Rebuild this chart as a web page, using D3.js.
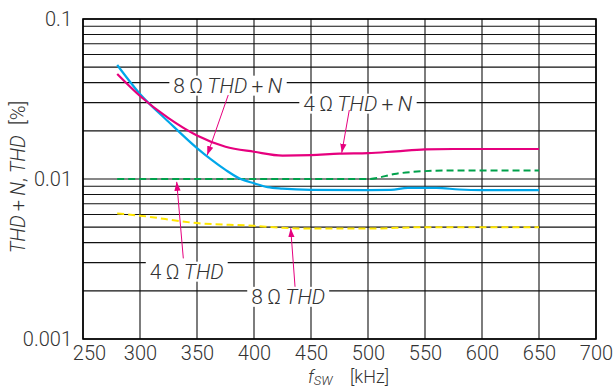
<!DOCTYPE html>
<html>
<head>
<meta charset="utf-8">
<script src="https://cdn.jsdelivr.net/npm/d3@7"></script>
<style>
  body { margin: 0; background: #fff; }
  text { font-family: Roboto, "Liberation Sans", sans-serif; font-weight: 300; fill: #333; }
</style>
</head>
<body>
<div id="chart"></div>
<script>
// tick labels
var xTicks = [250, 300, 350, 400, 450, 500, 550, 600, 650, 700];
var yTicks = [0.001, 0.01, 0.1];
var yTickLabels = ["0.001", "0.01", "0.1"];

// 4 ohm THD+N (magenta)
var thdn4Freq = [280, 300, 325, 350, 375, 400, 425, 450, 475, 500, 525, 550, 575, 600, 650];
var thdn4Val  = [0.0453, 0.0330, 0.0240, 0.0187, 0.0159, 0.0148, 0.0140, 0.0141, 0.0144, 0.0145, 0.0149, 0.0153, 0.0154, 0.0154, 0.0154];

// 8 ohm THD+N (cyan)
var thdn8Freq = [280, 300, 325, 350, 362, 375, 387, 400, 412, 425, 450, 500, 520, 535, 560, 580, 600, 650];
var thdn8Val  = [0.0516, 0.0340, 0.0228, 0.0156, 0.0133, 0.0114, 0.0101, 0.0094, 0.0089, 0.0087, 0.00855, 0.00853, 0.00855, 0.0088, 0.0088, 0.0086, 0.00853, 0.00853];

// 4 ohm THD (green dashed)
var thd4Freq = [280, 350, 400, 450, 500, 525, 550, 575, 600, 650];
var thd4Val  = [0.0100, 0.0100, 0.0100, 0.0100, 0.0100, 0.0108, 0.0112, 0.0113, 0.0113, 0.0113];

// 8 ohm THD (yellow dashed)
var thd8Freq = [280, 300, 350, 400, 425, 450, 500, 550, 600, 650];
var thd8Val  = [0.0061, 0.0059, 0.0053, 0.0051, 0.00495, 0.0049, 0.0049, 0.0050, 0.0050, 0.0050];

// set the specs
var width = 615;
var height = 388;
var marginLeft = 83;
var marginRight = 19;
var marginTop = 19;
var marginBottom = 49;

var svg = d3.select("#chart")
            .append("svg")
            .attr("width", width)
            .attr("height", height);

var xScale = d3.scaleLinear()
                .domain([250, 700])
                .range([marginLeft, width - marginRight]);

var yScale = d3.scaleLog()
                .domain([0.001, 0.1])
                .range([height - marginBottom, marginTop]);

// grid
var grid = svg.append("g").attr("stroke", "#111").attr("stroke-width", 1.1);
grid.selectAll("line.h")
    .data(yScale.ticks())
    .enter().append("line")
    .attr("x1", xScale(250)).attr("x2", xScale(700))
    .attr("y1", function(d){ return yScale(d); })
    .attr("y2", function(d){ return yScale(d); });
grid.selectAll("line.v")
    .data(xTicks)
    .enter().append("line")
    .attr("y1", yScale(0.1)).attr("y2", yScale(0.001))
    .attr("x1", function(d){ return xScale(d); })
    .attr("x2", function(d){ return xScale(d); });

// frame
svg.append("rect")
    .attr("x", xScale(250)).attr("y", yScale(0.1))
    .attr("width", xScale(700) - xScale(250))
    .attr("height", yScale(0.001) - yScale(0.1))
    .attr("fill", "none").attr("stroke", "#000").attr("stroke-width", 1.6);

// axes (labels only)
var xAxis = d3.axisBottom(xScale).tickValues(xTicks).tickSize(0).tickPadding(7);
var gx = svg.append("g")
    .attr("transform", "translate(0," + (height - marginBottom) + ")")
    .call(xAxis);
gx.select(".domain").remove();
gx.selectAll("text")
    .style("font-size", "20px")
    .attr("dx", function(d){ return d === 250 ? 6 : 0; });

var yAxis = d3.axisLeft(yScale).tickValues(yTicks).tickSize(0).tickPadding(11)
    .tickFormat(function(d, i){ return yTickLabels[i]; });
var gy = svg.append("g")
    .attr("transform", "translate(" + marginLeft + ",0)")
    .call(yAxis);
gy.select(".domain").remove();
gy.selectAll("text").style("font-size", "20px");

// axis titles
var yTitle = svg.append("text")
    .attr("transform", "translate(25,177) rotate(-90)")
    .attr("text-anchor", "middle")
    .style("font-size", "20px");
yTitle.append("tspan").style("font-style", "italic").text("THD");
yTitle.append("tspan").text("\u2009+\u2009");
yTitle.append("tspan").style("font-style", "italic").text("N");
yTitle.append("tspan").text(", ");
yTitle.append("tspan").style("font-style", "italic").text("THD");
yTitle.append("tspan").text("\u2002[%]");

var xTitle = svg.append("text")
    .attr("x", 308).attr("y", 383)
    .style("font-size", "18px");
xTitle.append("tspan").style("font-style", "italic").text("f");
xTitle.append("tspan").style("font-style", "italic").style("font-size", "13px").attr("dy", 1.5).text("SW");
xTitle.append("tspan").attr("x", 350).attr("dy", -1.5).text("[kHz]");

// label boxes drawn over grid
var labels = [
  { parts: [["8\u2009\u03A9\u2009", 0], ["THD", 1], ["\u2009+\u2009", 0], ["N", 1]], f: 377, v: 0.04, dy: 3 },
  { parts: [["4\u2009\u03A9\u2009", 0], ["THD", 1], ["\u2009+\u2009", 0], ["N", 1]], f: 491, v: 0.03, dy: 1 },
  { parts: [["4\u2009\u03A9\u2009", 0], ["THD", 1]], f: 341, v: 0.003, dy: 9 },
  { parts: [["8\u2009\u03A9\u2009", 0], ["THD", 1]], f: 430, v: 0.002, dy: 6 }
];

var labelG = svg.append("g");
labels.forEach(function(l){
  var g = labelG.append("g");
  var t = g.append("text")
      .attr("x", xScale(l.f))
      .attr("y", yScale(l.v) + l.dy)
      .attr("text-anchor", "middle")
      .attr("dominant-baseline", "central")
      .style("font-size", "21px");
  l.parts.forEach(function(p){
    t.append("tspan").style("font-style", p[1] ? "italic" : "normal").text(p[0]);
  });
  var bb = t.node().getBBox();
  g.insert("rect", "text")
      .attr("x", bb.x - 4).attr("y", bb.y + 2)
      .attr("width", bb.width + 8).attr("height", bb.height - 4)
      .attr("fill", "#fff");
});

// curves
var line = d3.line()
    .x(function(d){ return xScale(d[0]); })
    .y(function(d){ return yScale(d[1]); })
    .curve(d3.curveMonotoneX);

function series(freq, vals, color, w, dash) {
  svg.append("path")
      .datum(d3.zip(freq, vals))
      .attr("d", line)
      .attr("fill", "none")
      .attr("stroke", color)
      .attr("stroke-width", w)
      .attr("stroke-dasharray", dash);
}

series(thd4Freq, thd4Val, "#00a14b", 2, "7,4");
series(thd8Freq, thd8Val, "#ffe600", 2, "7,4");
series(thdn8Freq, thdn8Val, "#00a7ea", 2.2, null);
series(thdn4Freq, thdn4Val, "#e6007e", 2.2, null);

// arrows from labels to curves
var arrowColor = "#e6007e";
svg.append("defs").append("marker")
    .attr("id", "head")
    .attr("viewBox", "0 0 10 10")
    .attr("refX", 10).attr("refY", 5)
    .attr("markerWidth", 9).attr("markerHeight", 9)
    .attr("markerUnits", "userSpaceOnUse")
    .attr("orient", "auto")
  .append("path")
    .attr("d", "M0,1.5 L10,5 L0,8.5 Z")
    .attr("fill", arrowColor);

var arrows = [
  { f1: 377.4, v1: 0.0335, f2: 359, v2: 0.0141 },
  { f1: 483.6, v1: 0.0270, f2: 477, v2: 0.0146 },
  { f1: 338, v1: 0.00319, f2: 332.2, v2: 0.0096 },
  { f1: 436, v1: 0.00212, f2: 432.2, v2: 0.00492 }
];

svg.selectAll("line.arrow")
    .data(arrows)
    .enter().append("line")
    .attr("class", "arrow")
    .attr("x1", function(d){ return xScale(d.f1); })
    .attr("y1", function(d){ return yScale(d.v1); })
    .attr("x2", function(d){ return xScale(d.f2); })
    .attr("y2", function(d){ return yScale(d.v2); })
    .attr("stroke", arrowColor)
    .attr("stroke-width", 1)
    .attr("marker-end", "url(#head)");
</script>
</body>
</html>
